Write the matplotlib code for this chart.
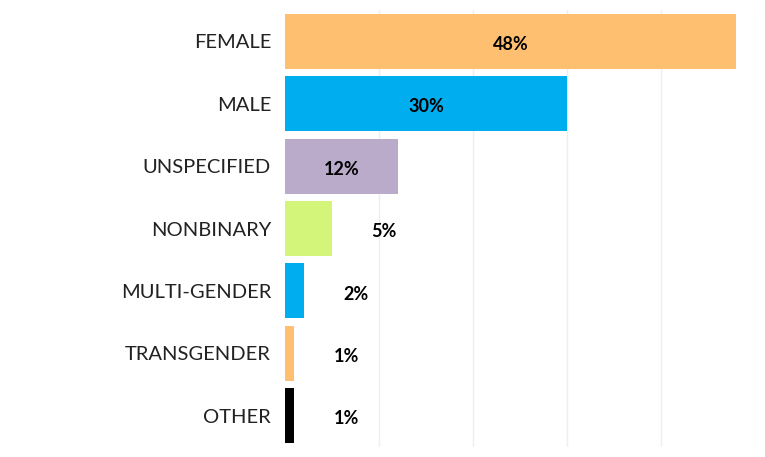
import matplotlib
matplotlib.use("Agg")
import matplotlib.pyplot as plt

categories = ["FEMALE", "MALE", "UNSPECIFIED", "NONBINARY", "MULTI-GENDER", "TRANSGENDER", "OTHER"]
values = [48, 30, 12, 5, 2, 1, 1]
colors = ["#FFBF70", "#00AEEF", "#B9ABC9", "#D3F57A", "#00AEEF", "#FFBF70", "#000000"]

plt.rcParams['font.family'] = ['Lato', 'DejaVu Sans']
fig = plt.figure(figsize=(7.65, 4.57), dpi=100)
ax = fig.add_axes([285/765, 10/457, 470/765, 437/457])
y = list(range(len(categories)))
ax.barh(y, values, height=0.88, color=colors, zorder=2)
for yi, v in zip(y, values):
    x = v / 2 if v >= 10 else v + 5.5
    ax.text(x, yi + 0.05, f"{v}%", ha="center", va="center", fontsize=13, fontweight="bold", color="black", zorder=3)
ax.set_xlim(0, 50)
ax.set_ylim(len(categories) - 0.5 + 0.0, -0.5)
ax.set_yticks(y)
ax.set_yticklabels(categories, fontsize=14.5, color="#222222")
ax.tick_params(axis="y", length=0, pad=10)
ax.set_xticks([10, 20, 30, 40, 50])
ax.tick_params(axis="x", length=0, labelbottom=False)
ax.grid(axis="x", color="#e6f2f2", linewidth=1, zorder=0)
for s in ax.spines.values():
    s.set_visible(False)
fig.savefig("out.png", dpi=100)
